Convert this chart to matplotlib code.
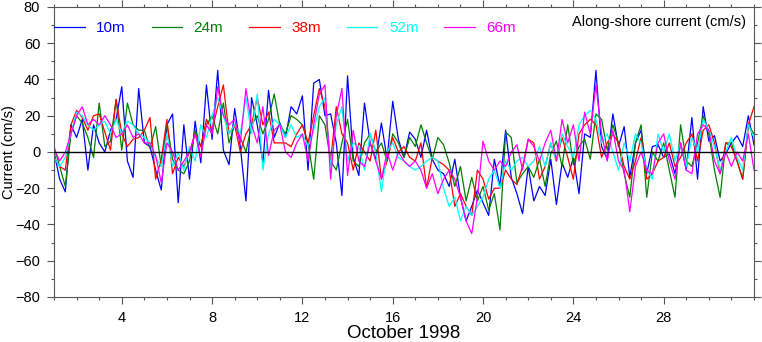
import numpy as np
import matplotlib
matplotlib.use("Agg")
import matplotlib.pyplot as plt
from matplotlib.ticker import MultipleLocator

plt.rcParams["font.family"] = ["Liberation Sans", "DejaVu Sans"]

# 6-hourly samples, Oct 1 00:00 .. Nov 1 00:00 (one row per day)
START_DAY = 1.0
STEP_DAYS = 0.25

depths = ["10m", "24m", "38m", "52m", "66m"]
colors = ["#0000ff", "#008000", "#ff0000", "#00ffff", "#ff00ff"]

u10 = [
    0, -15, -22, 15,   8, 18, -10, 15,   5, 0, 12, 18,   36, -5, -14, 35,
    5, 3, -10, -21,   15, 21, -28, 15,   -15, 17, -6, 37,   7, 45, 1, -7,
    24, 3, -27, 30,   15, -6, 34, 8,   16, 8, 25, 21,   31, -10, 38, 40,
    20, 21, 5, -24,   42, -3, -13, 27,   5, -4, 16, -4,   28, 7, -3, 11,
    7, -3, 12, -4,   -10, -12, -19, -4,   -25, -38, -30, -21,   -28, -35, -4, -19,
    12, -14, -23, -34,   -8, -27, -19, -24,   -4, -29, -6, -14,   -3, -23, 10, 8,
    45, 3, -4, 21,   3, 14, -14, 5,   12, -12, 3, 4,   -3, -1, -12, 5,
    -10, 19, -15, 25,   6, 9, -5, -1,   5, 9, 3, 20,
    4,
]
u24 = [
    3, -8, -19, 10,   20, 16, 8, -3,   27, 3, 6, 29,   1, 27, 15, 12,
    12, 2, 14, -8,   16, -4, -10, -12,   -5, 12, 3, 15,   20, 10, 27, 5,
    15, 8, 0, 15,   20, 10, 18, 32,   15, 10, 20, 18,   15, 5, -15, 20,
    15, -5, -10, 5,   18, -5, -8, 5,   10, 0, 5, -5,   10, 5, -3, 8,
    3, 15, 5, -4,   8, 4, -6, -19,   -8, -27, -14, -27,   -19, -32, -23, -43,
    11, 8, -17, -12,   -8, -14, -4, -19,   -1, 6, -8, 15,   -7, 3, 7, -4,
    21, 18, 1, 15,   5, -12, -25, 5,   15, -25, 0, -5,   5, -10, -25, 15,
    -5, -8, 5, 20,   10, -10, -25, 5,   5, -5, -15, 15,
    10,
]
u38 = [
    -3, -8, -10, 15,   23, 19, 12, 20,   21, 11, 1, 29,   10, 3, 7, 8,
    12, 19, -15, -4,   18, -12, -3, -8,   0, 10, 3, 18,   12, 25, 37, 10,
    15, 0, 10, 15,   30, 15, 22, 5,   5, 5, 3, 10,   15, 5, 20, 35,
    25, -5, 25, 10,   5, -10, 5, 0,   -5, 12, -15, -5,   8, 0, 3, -3,
    -5, 5, -20, -3,   -5, -7, -10, -30,   -23, -30, -35, -10,   -15, -26, -20, -20,
    -10, -15, -18, -8,   7, 5, -15, -8,   5, -5, 8, -3,   -15, 10, 15, 18,
    15, -3, 5, 10,   5, -8, -15, -5,   8, -15, -12, -5,   -3, 5, -8, -3,
    5, 10, -5, 12,   15, 5, -12, 5,   3, -5, -15, 15,
    25,
]
u52 = [
    -3, -8, -3, 10,   22, 20, 15, 12,   15, 17, 10, 18,   10, 17, 15, 10,
    8, 5, -3, -8,   10, -8, 0, -10,   3, -5, 15, 8,   20, 30, 20, 10,
    15, 10, 30, 10,   32, -10, 10, 18,   15, 8, 15, 8,   10, 3, 12, 25,
    30, -8, 15, 25,   -5, 5, 3, -10,   10, 0, -22, 0,   5, -3, -5, -8,
    -10, -8, -5, -3,   -5, -20, -30, -25,   -38, -30, -35, -30,   -25, -15, -10, -20,
    -5, -10, -5, -3,   -8, -5, 3, -8,   5, -5, 10, 3,   -3, 15, 20, 23,
    18, 5, 10, 0,   -10, 5, -5, 10,   5, -10, -15, 10,   0, 10, -5, 5,
    -8, 8, 0, 18,   12, 3, -10, 0,   8, -3, -10, 15,
    8,
]
u66 = [
    2, -5, 0, 10,   20, 25, 15, 18,   15, 20, 15, 8,   10, 15, 8, 10,
    5, 5, -2, -17,   5, 0, -10, -5,   0, 10, -3, 15,   10, 36, 20, 15,
    18, 5, 35, 15,   5, 25, -2, 12,   15, 0, -3, 5,   10, -5, 15, 32,
    37, -15, 20, 35,   -13, 12, -5, -8,   5, -5, -15, 0,   -10, 0, -5, -8,
    -5, -10, -20, -12,   -23, -15, -10, -15,   -25, -38, -45, -25,   6, -5, -10, -5,
    -8, 0, 4, -10,   7, 3, -5, 5,   12, -5, 18, 5,   15, -5, 22, 10,
    37, 10, -5, 12,   -5, -10, -33, -8,   0, -10, -12, 5,   10, -5, -15, 5,
    -10, -12, 10, 15,   12, -5, -12, 0,   -8, 0, -5, 10,
    -10,
]
series = [u10, u24, u38, u52, u66]

x_ticks = [4, 8, 12, 16, 20, 24, 28]
y_ticks = [-80, -60, -40, -20, 0, 20, 40, 60, 80]


def main() -> None:
    fig = plt.figure(figsize=(7.62, 3.42), dpi=100)
    ax = fig.add_axes([0.0709, 0.1316, 0.9186, 0.848])

    handles = []
    for vals, name, col in zip(series, depths, colors):
        t = START_DAY + STEP_DAYS * np.arange(len(vals))
        (ln,) = ax.plot(t, vals, color=col, lw=0.9, label=name)
        handles.append(ln)

    ax.axhline(0, color="black", lw=1.0, zorder=5)

    ax.set_xlim(1, 32)
    ax.set_ylim(-80, 80)
    ax.set_xticks(x_ticks)
    ax.set_yticks(y_ticks)
    ax.xaxis.set_minor_locator(MultipleLocator(1))
    ax.yaxis.set_minor_locator(MultipleLocator(10))
    ax.tick_params(which="both", direction="out", top=True, right=True,
                   labeltop=False, labelright=False, colors="#555555",
                   labelcolor="black", labelsize=10.5)
    ax.tick_params(which="major", length=5, width=0.8, pad=5)
    ax.tick_params(which="minor", length=2.5, width=0.8)
    for sp in ax.spines.values():
        sp.set_color("#555555")
        sp.set_linewidth(0.8)

    ax.set_ylabel("Current (cm/s)", fontsize=10.5)
    ax.yaxis.set_label_coords(-0.055, 0.5)
    ax.set_xlabel("October 1998", fontsize=13.5, labelpad=0)

    ax.text(0.988, 0.948, "Along-shore current (cm/s)", transform=ax.transAxes,
            ha="right", va="center", fontsize=10.5)

    ax.legend(handles=handles, loc="upper left", bbox_to_anchor=(0.0, 0.952),
              ncol=5, frameon=False, labelcolor="linecolor", fontsize=11,
              handlelength=2.0, handletextpad=0.75, columnspacing=1.7,
              borderpad=0.0, borderaxespad=0.0)

    fig.savefig("out.png", dpi=100)
    plt.close(fig)


if __name__ == "__main__":
    main()
